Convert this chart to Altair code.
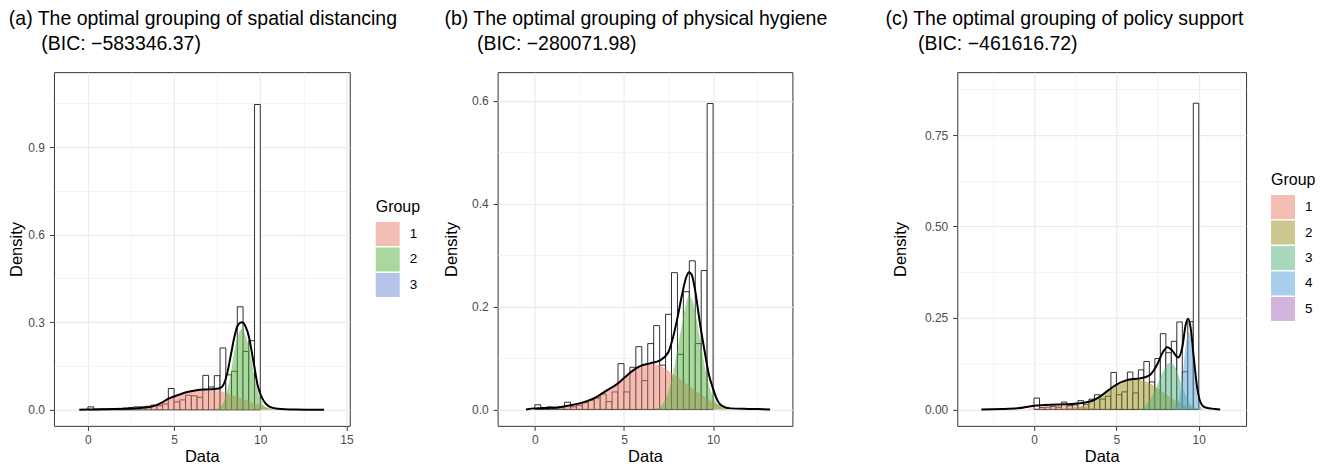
import altair as alt
import pandas as pd

FONT = "Liberation Sans"

# ---------------- Panel (a): spatial distancing ----------------
a_hist = [0.010, 0.003, 0.003, 0.003, 0.004, 0.005, 0.006, 0.008, 0.010, 0.010,
          0.012, 0.016, 0.014, 0.020, 0.073, 0.027, 0.034, 0.050, 0.048, 0.043,
          0.118, 0.078, 0.117, 0.212, 0.120, 0.132, 0.353, 0.200, 0.237, 1.046]
a_g1_x = [1.5, 2, 2.5, 3, 3.5, 4, 4.5, 5, 5.5, 6, 6.5, 7, 7.5, 8, 8.5, 9, 9.5, 10, 10.5, 11]
a_g1_y = [0.000, 0.002, 0.003, 0.006, 0.009, 0.016, 0.030, 0.044, 0.056, 0.064, 0.068,
          0.068, 0.066, 0.058, 0.048, 0.037, 0.026, 0.016, 0.007, 0.001]
a_g2_x = [7.3, 7.6, 7.9, 8.1, 8.3, 8.5, 8.7, 8.93, 9.15, 9.36, 9.5, 9.65, 9.8, 9.93, 10.2, 10.5, 10.8]
a_g2_y = [0.000, 0.008, 0.030, 0.070, 0.130, 0.205, 0.255, 0.277, 0.255, 0.209, 0.170,
          0.117, 0.075, 0.049, 0.015, 0.004, 0.000]
a_tot_x = [-0.5, 0, 0.5, 1, 2, 3, 3.7, 4.2, 4.67, 5.2, 5.7, 6.3, 7, 7.5, 7.8, 8.1, 8.3,
           8.5, 8.7, 8.93, 9.15, 9.36, 9.5, 9.65, 9.85, 10.0, 10.2, 10.5, 11, 12, 13.7]
a_tot_y = [0.000, 0.001, 0.001, 0.002, 0.003, 0.006, 0.011, 0.022, 0.038, 0.050, 0.060,
           0.067, 0.070, 0.072, 0.080, 0.130, 0.190, 0.250, 0.290, 0.300, 0.285, 0.245,
           0.200, 0.150, 0.083, 0.055, 0.030, 0.012, 0.004, 0.001, 0.000]

# ---------------- Panel (b): physical hygiene ----------------
b_hist = [0.009, 0.003, 0.005, 0.002, 0.003, 0.014, 0.005, 0.008, 0.013, 0.018,
          0.022, 0.030, 0.015, 0.034, 0.089, 0.034, 0.082, 0.122, 0.056, 0.128,
          0.163, 0.086, 0.185, 0.266, 0.107, 0.229, 0.289, 0.128, 0.270, 0.595]
b_g1_x = [0.5, 1, 1.5, 2, 2.5, 3, 3.5, 4, 4.5, 5, 5.5, 6, 6.5, 7, 7.5, 8, 8.5, 9, 9.5, 10, 10.5, 11]
b_g1_y = [0.000, 0.001, 0.003, 0.006, 0.011, 0.018, 0.027, 0.038, 0.050, 0.062, 0.074,
          0.084, 0.089, 0.086, 0.075, 0.062, 0.050, 0.037, 0.025, 0.014, 0.006, 0.001]
b_g2_x = [6.7, 7.0, 7.25, 7.5, 7.75, 8.0, 8.25, 8.5, 8.65, 8.8, 9.0, 9.25, 9.5, 9.75,
          10.0, 10.25, 10.5, 10.8]
b_g2_y = [0.000, 0.004, 0.015, 0.035, 0.070, 0.115, 0.165, 0.208, 0.222, 0.215, 0.190,
          0.140, 0.090, 0.050, 0.024, 0.010, 0.003, 0.000]
b_tot_x = [-0.5, 0, 1, 2, 3, 3.5, 4, 4.6, 5, 5.4, 5.9, 6.5, 7.0, 7.5, 7.75, 8.0, 8.25,
           8.5, 8.65, 8.8, 9.0, 9.25, 9.5, 9.75, 10.0, 10.25, 10.5, 11, 12, 13.2]
b_tot_y = [0.000, 0.002, 0.003, 0.008, 0.017, 0.025, 0.036, 0.049, 0.061, 0.073, 0.084,
           0.090, 0.095, 0.112, 0.140, 0.178, 0.222, 0.258, 0.267, 0.262, 0.230, 0.170,
           0.118, 0.070, 0.040, 0.017, 0.007, 0.002, 0.001, 0.000]

# ---------------- Panel (c): policy support ----------------
c_hist = [0.031, 0.005, 0.006, 0.008, 0.006, 0.020, 0.010, 0.012, 0.024, 0.014,
          0.028, 0.040, 0.028, 0.036, 0.101, 0.040, 0.048, 0.102, 0.045, 0.108,
          0.131, 0.075, 0.139, 0.207, 0.155, 0.186, 0.239, 0.103, 0.240, 0.837]
c_g1_x = [-0.5, 0, 0.5, 1, 1.5, 2, 2.5, 3, 3.5, 4, 4.5, 5]
c_g1_y = [0.000, 0.003, 0.006, 0.008, 0.009, 0.009, 0.008, 0.006, 0.004, 0.002, 0.001, 0.000]
c_g2_x = [1.5, 2, 2.5, 3, 3.5, 4, 4.5, 5, 5.5, 6, 6.5, 7, 7.5, 8, 8.5, 9, 9.5, 10, 10.5]
c_g2_y = [0.001, 0.003, 0.006, 0.011, 0.020, 0.033, 0.050, 0.066, 0.077, 0.082, 0.080,
          0.072, 0.058, 0.042, 0.027, 0.015, 0.007, 0.002, 0.000]
c_g3_x = [6.3, 6.7, 7.0, 7.3, 7.6, 7.9, 8.1, 8.3, 8.5, 8.75, 9.0, 9.25, 9.5, 9.75, 10.0]
c_g3_y = [0.000, 0.008, 0.025, 0.048, 0.080, 0.110, 0.125, 0.128, 0.120, 0.095, 0.062,
          0.035, 0.015, 0.005, 0.000]
c_g4_x = [8.3, 8.6, 8.8, 9.0, 9.15, 9.3, 9.4, 9.5, 9.65, 9.8, 9.95, 10.1, 10.3]
c_g4_y = [0.000, 0.010, 0.030, 0.080, 0.150, 0.200, 0.210, 0.200, 0.140, 0.070, 0.025,
          0.008, 0.000]
c_tot_x = [-3.2, -2, -1, 0, 1, 2, 3, 3.5, 4, 4.5, 5, 5.5, 6, 6.5, 7, 7.5, 7.8, 8.1, 8.4,
           8.75, 9.0, 9.2, 9.35, 9.5, 9.7, 9.9, 10.1, 10.4, 11, 11.3]
c_tot_y = [0.000, 0.001, 0.003, 0.010, 0.013, 0.014, 0.018, 0.023, 0.035, 0.052, 0.068,
           0.078, 0.083, 0.085, 0.093, 0.125, 0.155, 0.170, 0.160, 0.142, 0.170, 0.230,
           0.248, 0.225, 0.140, 0.060, 0.020, 0.005, 0.001, 0.000]

groups3 = ["1", "2", "3"]
groups5 = ["1", "2", "3", "4", "5"]
colors3 = ["#E97B67", "#51B13D", "#6989D1"]
colors5 = ["#E97B67", "#998D1F", "#55B17D", "#559FDB", "#A969B5"]

INDENT = "\u200b" + "\u00a0" * 6
titles = {
    "a": ["(a) The optimal grouping of spatial distancing", INDENT + "(BIC: \u2212583346.37)"],
    "b": ["(b) The optimal grouping of physical hygiene", INDENT + "(BIC: \u2212280071.98)"],
    "c": ["(c) The optimal grouping of policy support", INDENT + "(BIC: \u2212461616.72)"],
}


def cond(major, on, off):
    return {"condition": {"test": f"indexof({major}, datum.value) >= 0", "value": on}, "value": off}


def panel(hist, comps, tot_x, tot_y, groups, colors, xdom, ydom, xmajor, xminor,
          ymajor, yminor, yfmt, title, width, legend_x, legend_y, title_dx, ytp):
    bars = pd.DataFrame({
        "x0": [k / 3 for k in range(len(hist))],
        "x1": [(k + 1) / 3 for k in range(len(hist))],
        "h": hist,
    })
    rows = []
    for g, (xs_, ys_) in comps:
        for xv, yv in zip(xs_, ys_):
            rows.append({"group": g, "x": xv, "y": yv})
    areas = pd.DataFrame(rows)
    tot = pd.DataFrame({"x": tot_x, "y": tot_y})

    xs = alt.Scale(domain=xdom, nice=False, zero=False)
    ys = alt.Scale(domain=ydom, nice=False, zero=False)

    x_axis = alt.Axis(
        values=sorted(xmajor + xminor), title="Data", format="d",
        labelExpr=f"indexof({xmajor}, datum.value) >= 0 ? datum.label : ''",
        tickOpacity=cond(xmajor, 1, 0),
        gridWidth=cond(xmajor, 1.2, 0.6),
    )
    y_axis = alt.Axis(
        values=sorted(ymajor + yminor), title="Density", format=yfmt, titlePadding=ytp,
        labelExpr=f"indexof({ymajor}, datum.value) >= 0 ? datum.label : ''",
        tickOpacity=cond(ymajor, 1, 0),
        gridWidth=cond(ymajor, 1.2, 0.6),
    )

    bar_layer = alt.Chart(bars).mark_rect(fill="white", stroke="#1a1a1a", strokeWidth=0.9).encode(
        x=alt.X("x0:Q", scale=xs, axis=x_axis, title="Data"),
        x2="x1:Q",
        y=alt.Y("h:Q", scale=ys, axis=y_axis, title="Density"),
        y2=alt.datum(0),
    )
    area_layer = alt.Chart(areas).mark_area(interpolate="monotone", opacity=0.5).encode(
        x=alt.X("x:Q", scale=xs, axis=x_axis, title="Data"),
        y=alt.Y("y:Q", scale=ys, axis=y_axis, stack=None, title="Density"),
        y2=alt.datum(0),
        color=alt.Color("group:N", scale=alt.Scale(domain=groups, range=colors),
                        legend=alt.Legend(
                            title="Group", orient="none", legendX=legend_x, legendY=legend_y,
                            symbolType="square", symbolSize=576, symbolOpacity=0.5,
                            symbolStrokeWidth=0, titleFontSize=16, labelFontSize=13.5,
                            titleFont=FONT, labelFont=FONT, titleFontWeight="normal",
                            titleColor="black", labelColor="black", rowPadding=1.5,
                            titlePadding=7, labelOffset=10, padding=0)),
    )
    line_layer = alt.Chart(tot).mark_line(color="black", strokeWidth=2, interpolate="monotone").encode(
        x=alt.X("x:Q", scale=xs, axis=x_axis, title="Data"),
        y=alt.Y("y:Q", scale=ys, axis=y_axis, title="Density"),
    )
    return alt.layer(bar_layer, area_layer, line_layer).properties(
        width=width, height=354,
        title=alt.TitleParams(text=title, anchor="start", fontSize=19.5, font=FONT,
                              fontWeight="normal", color="black", lineHeight=25,
                              offset=18, dx=title_dx, frame="bounds"),
    )


pa = panel(a_hist, [("1", (a_g1_x, a_g1_y)), ("2", (a_g2_x, a_g2_y))], a_tot_x, a_tot_y,
           groups3, colors3, [-1.97, 15.19], [-0.055, 1.157], [0, 5, 10, 15], [2.5, 7.5, 12.5],
           [0.0, 0.3, 0.6, 0.9], [0.15, 0.45, 0.75, 1.05], ".1f", titles["a"], 296, 322, 127, 0, 3)
pb = panel(b_hist, [("1", (b_g1_x, b_g1_y)), ("2", (b_g2_x, b_g2_y))], b_tot_x, b_tot_y,
           groups3, colors3, [-2.09, 14.45], [-0.032, 0.656], [0, 5, 10], [2.5, 7.5, 12.5],
           [0.0, 0.2, 0.4, 0.6], [0.1, 0.3, 0.5], ".1f", titles["b"], 295, 322, 127, 1, 12)
pc = panel(c_hist, [("1", (c_g1_x, c_g1_y)), ("2", (c_g2_x, c_g2_y)), ("3", (c_g3_x, c_g3_y)),
                    ("4", (c_g4_x, c_g4_y))], c_tot_x, c_tot_y,
           groups5, colors5, [-4.66, 12.87], [-0.045, 0.922], [0, 5, 10], [-2.5, 2.5, 7.5, 12.5],
           [0.0, 0.25, 0.5, 0.75], [0.125, 0.375, 0.625, 0.875], ".2f", titles["c"], 289, 314, 100, -7, 16)

chart = alt.hconcat(alt.hconcat(pa, pb, spacing=44), pc, spacing=55).resolve_scale(
    color="independent", x="independent", y="independent"
).resolve_legend(color="independent").properties(padding=0).configure_view(
    stroke="#333333", strokeWidth=1
).configure_axis(
    domain=False, gridColor="#EBEBEB", tickColor="#333333", tickSize=4.5, tickWidth=1,
    labelFont=FONT, labelFontSize=12, labelColor="#4D4D4D", labelPadding=5,
    titleFont=FONT, titleFontSize=16.5, titleFontWeight="normal", titleColor="black",
).configure_axisX(titlePadding=3, labelPadding=4)

chart.save("out.html", embed_options={"renderer": "svg", "actions": False})
